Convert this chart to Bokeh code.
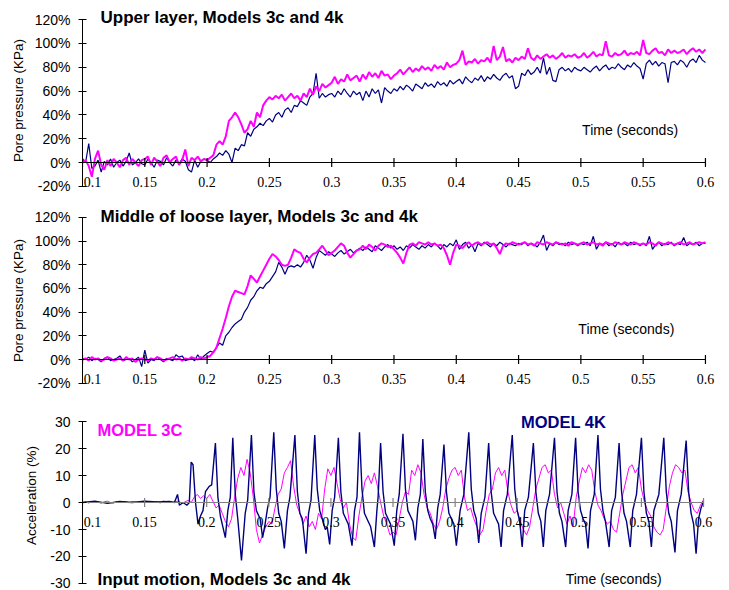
import numpy as np
from bokeh.plotting import figure
from bokeh.layouts import column
from bokeh.models import (Range1d, FixedTicker, CustomJSTickFormatter, Label,
                          LabelSet, ColumnDataSource)
from bokeh.embed import file_html
from bokeh.resources import INLINE

FONT = "Liberation Sans"
MAGENTA = "#FF00FF"
NAVY = "#000080"

# ---------------- data ----------------
x_tick_values = [0.1, 0.15, 0.2, 0.25, 0.3, 0.35, 0.4, 0.45, 0.5, 0.55, 0.6]
x_tick_labels = ["0.1", "0.15", "0.2", "0.25", "0.3", "0.35", "0.4", "0.45", "0.5", "0.55", "0.6"]
pore_ticks = [-20, 0, 20, 40, 60, 80, 100, 120]
acc_ticks = [-30, -20, -10, 0, 10, 20, 30]

# sampling times of the pore pressure records (s)
t_pore = np.round(np.linspace(0.1, 0.6, 201), 4)

# Upper layer, model 3c (%)
upper_3c = [
    0, 2, -3, -12, 3, 10, -2, -6, 2, -3, 3, 0, -4, 2, 4, -2, 3, 0, -3, 2,
    3, 5, -2, 4, 1, -3, 4, 6, 0, 3, 5, -2, 2, 11, -3, 4, 2, 5, 1, 3,
    2, 4, 6, 15, 18, 15, 22, 35, 38, 42, 38, 32, 25, 28, 35, 30, 42, 38, 48, 52,
    55, 53, 56, 54, 57, 52, 55, 58, 54, 56, 52, 58, 55, 62, 57, 64, 60, 66, 63, 65,
    67, 72, 66, 70, 68, 74, 69, 71, 73, 68, 74, 70, 76, 72, 75, 71, 77, 73, 74, 70,
    73, 75, 78, 74, 77, 80, 76, 79, 77, 81, 78, 80, 77, 82, 79, 81, 78, 84, 80, 82,
    83, 86, 94, 82, 85, 84, 87, 83, 86, 85, 88, 84, 98, 86, 89, 97, 85, 87, 84, 88,
    86, 89, 87, 96, 88, 86, 90, 87, 89, 91, 88, 90, 87, 89, 92, 88, 90, 89, 91, 88,
    89, 92, 88, 90, 93, 89, 91, 90, 102, 90, 89, 92, 90, 91, 94, 90, 92, 91, 93, 90,
    103, 92, 91, 94, 96, 92, 93, 90, 95, 92, 94, 92, 93, 95, 91, 94, 96, 93, 95, 92,
    95,
]
# Upper layer, model 4k (%)
upper_4k = [
    3, 0, 16, -5, -3, 2, -8, 1, -2, 3, -4, 0, 2, -3, 1, 8, -2, 0, 3, -1,
    -2, 3, 0, -4, 2, 1, -2, 4, 0, -3, 2, -1, 3, 1, -6, -8, 2, -4, 1, 3,
    2, 0, 3, 5, 8, 6, 10, 7, 0, 12, 10, 15, 14, 25, 22, 28, 30, 33, 31, 35,
    37, 34, 40, 42, 38, 44, 46, 42, 48, 47, 52, 50, 48, 55, 58, 75, 54, 58, 55, 57,
    58, 55, 60, 57, 62, 58, 55, 60, 57, 59, 52, 60, 55, 62, 58, 61, 50, 63, 60, 58,
    62, 60, 64, 61, 65, 63, 60, 66, 64, 62, 67, 64, 66, 63, 68, 65, 67, 64, 69, 66,
    68, 70, 66, 72, 69, 67, 71, 69, 73, 68, 72, 70, 74, 71, 69, 73, 75, 71, 73, 62,
    64, 75, 73, 78, 74, 76, 80, 75, 88, 74, 80, 69, 68, 78, 80, 77, 79, 76, 80, 78,
    77, 80, 78, 76, 79, 81, 77, 80, 82, 78, 80, 79, 83, 80, 78, 82, 80, 84, 81, 79,
    70, 83, 86, 82, 85, 81, 84, 83, 67, 84, 85, 82, 86, 84, 80, 85, 87, 84, 90, 86,
    84,
]
# Middle of loose layer, model 3c (%)
middle_3c = [
    0, 1, -1, 2, 0, 1, -1, 0, 2, 1, -1, 0, 1, -1, 2, 0, 1, -2, 0, 1,
    0, -1, 1, 0, 2, 1, -1, 0, 1, 2, 0, 1, -1, 1, 0, 2, 1, 0, 2, 1,
    2, 3, 6, 10, 18, 26, 35, 45, 53, 58, 57, 56, 55, 62, 71, 68, 65, 70, 75, 80,
    85, 89, 87, 84, 80, 79, 80, 86, 93, 91, 90, 85, 82, 86, 89, 90, 93, 96, 92, 88,
    90, 92, 95, 98, 96, 90, 86, 89, 92, 93, 96, 93, 97, 95, 92, 96, 98, 97, 95, 96,
    93, 90, 86, 81, 90, 97, 98, 96, 99, 98, 97, 99, 97, 98, 96, 97, 94, 88, 80, 90,
    97, 96, 94, 97, 99, 96, 98, 99, 97, 98, 99, 97, 98, 94, 89, 96, 98, 97, 99, 98,
    97, 98, 99, 97, 98, 96, 99, 98, 97, 99, 98, 97, 99, 98, 97, 98, 96, 99, 98, 97,
    98, 99, 97, 98, 99, 97, 98, 96, 99, 98, 97, 99, 98, 97, 99, 98, 97, 99, 98, 97,
    98, 97, 99, 98, 96, 99, 98, 97, 99, 98, 97, 98, 99, 97, 98, 99, 97, 98, 99, 98,
    99,
]
# Middle of loose layer, model 4k (%)
middle_4k = [
    1, 0, 2, -1, 1, 0, -2, 1, 2, -1, 0, 1, 3, -1, 0, 1, -2, 0, 2, -6,
    8, -3, 0, -1, 2, 0, -2, 1, 0, -1, 4, 2, 3, -1, 0, 1, -1, 4, 0, 3,
    5, 7, 6, 10, 14, 12, 20, 23, 27, 30, 32, 34, 40, 44, 50, 53, 58, 61, 60, 64,
    66, 70, 74, 82, 78, 72, 78, 79, 78, 80, 78, 82, 88, 84, 77, 86, 92, 90, 88, 91,
    89, 87, 90, 92, 89, 91, 93, 90, 92, 94, 92, 95, 93, 91, 96, 94, 92, 95, 97, 94,
    96, 93, 95, 92, 96, 94, 97, 95, 93, 96, 94, 97, 95, 98, 96, 93, 97, 95, 98, 96,
    101, 93, 97, 99, 94, 97, 91, 98, 96, 99, 97, 95, 98, 96, 99, 97, 95, 98, 97, 96,
    98, 97, 99, 96, 98, 97, 95, 99, 105, 92, 98, 96, 99, 97, 98, 96, 99, 97, 98, 96,
    98, 97, 99, 96, 104, 93, 98, 97, 99, 96, 98, 95, 99, 97, 98, 96, 99, 97, 98, 96,
    98, 96, 104, 93, 97, 99, 96, 98, 97, 99, 96, 98, 97, 103, 96, 98, 97, 99, 96, 98,
    98,
]

# Input motion, model 3C (acceleration, %), same sampling as pore pressure
acc_3c = [
    0, 0.3, -0.2, 0.4, 0, 0.2, -0.3, 0.3, 0.5, 0, -0.2, 0.4, 0.2, 0, 0.3, -0.1, 0.4, 0.2, 0, 0.3,
    0.5, 0.1, 0.3, 0, 0.4, -0.2, 0.6, 0.2, 0.3, 0, 0.4, 0.5, -0.3, 0.2, 0.8, 0, 2.0, 3.0, 1.5, 2.5,
    1.5, 3.0, 0.5, -2.0, -1.0, -4.0, -7.0, -9.0, -6.0, 2.0, 9.0, 13.0, 10.0, 16.0, 11.0, 2.0, -10.0, -15.0, -12.0, -9.0,
    -7.0, -8.0, -2.0, 3.0, 5.0, 11.0, 13.0, 15.5, 6.0, -1.0, -4.0, -8.0, -5.0, -9.0, -7.0, -10.0, -4.0, -6.0, 5.0, 12.5,
    10.0, 13.0, 7.0, 1.0, -2.0, 0.0, -8.0, -13.0, -14.0, -5.0, 2.0, 8.0, 10.0, 7.0, 11.0, 6.0, 0.0, -5.0, -8.0, -12.0,
    -11.0, -12.0, -6.0, 0.0, 4.0, 3.0, 12.0, 10.0, 14.0, 11.0, 3.0, -2.0, -4.0, -8.0, -10.0, -7.0, -2.0, 5.0, 9.0, 12.0,
    13.0, 10.0, 12.0, 2.0, -3.0, -2.0, -6.0, -9.0, -12.0, -10.0, -3.0, 3.0, 5.0, 11.0, 13.0, 10.0, 12.0, 4.0, -1.0, -4.0,
    -3.0, -7.0, -10.0, -12.0, -9.0, -2.0, 5.0, 9.0, 13.0, 14.0, 11.0, 12.0, 3.0, -2.0, 0.0, -4.0, -8.0, -5.0, -9.0, 2.0,
    8.0, 13.0, 11.0, 14.0, 12.0, 4.0, -1.0, -3.0, -6.0, -8.0, -7.0, -10.0, -11.0, -4.0, 3.0, 8.0, 13.0, 14.0, 11.0, 13.0,
    5.0, 0.0, -3.0, -5.0, -9.0, -11.0, -12.0, -10.0, -2.0, 6.0, 11.0, 14.0, 13.0, 11.0, 12.0, 4.0, 0.0, -3.0, -4.0, -1.0,
    1.0,
]

# Input motion, model 4K: times (s) and acceleration (%)
acc_4k_t = [
    0.100, 0.110, 0.120, 0.130, 0.140, 0.150, 0.160, 0.170, 0.174, 0.1765, 0.178, 0.181, 0.184, 0.186,
    0.1875, 0.189, 0.191, 0.193, 0.195, 0.197, 0.199, 0.202, 0.204,
    0.207, 0.209, 0.211, 0.213, 0.215, 0.217, 0.219,
    0.221, 0.223, 0.225, 0.228, 0.231, 0.233,
    0.236, 0.238, 0.240, 0.243, 0.245, 0.247, 0.249, 0.251,
    0.254, 0.256, 0.258, 0.260, 0.2625, 0.265, 0.267,
    0.271, 0.273, 0.275, 0.277, 0.280, 0.282, 0.284,
    0.287, 0.289, 0.291, 0.293, 0.2955, 0.297, 0.299, 0.301, 0.303,
    0.306, 0.308, 0.310, 0.312, 0.314, 0.317, 0.319, 0.321,
    0.323, 0.325, 0.327, 0.329, 0.332, 0.335, 0.337, 0.338,
    0.340, 0.342, 0.344, 0.346, 0.348, 0.351, 0.353, 0.355,
    0.358, 0.360, 0.362, 0.364, 0.366, 0.368, 0.370, 0.372,
    0.374, 0.376, 0.378, 0.380, 0.382, 0.384, 0.386, 0.388,
    0.391, 0.393, 0.395, 0.397, 0.399, 0.401, 0.404, 0.407,
    0.411, 0.413, 0.415, 0.417, 0.419, 0.421, 0.424,
    0.427, 0.429, 0.431, 0.433, 0.435, 0.437, 0.439, 0.442,
    0.446, 0.448, 0.450, 0.452, 0.454, 0.456, 0.459,
    0.463, 0.465, 0.467, 0.469, 0.471, 0.473, 0.476,
    0.480, 0.482, 0.484, 0.486, 0.489, 0.491, 0.494,
    0.497, 0.499, 0.501, 0.503, 0.505, 0.507, 0.509, 0.512,
    0.515, 0.517, 0.519, 0.521, 0.524, 0.526, 0.529,
    0.532, 0.534, 0.536, 0.538, 0.541, 0.543, 0.546,
    0.550, 0.552, 0.554, 0.556, 0.558, 0.560, 0.564,
    0.568, 0.570, 0.572, 0.574, 0.577, 0.579, 0.582,
    0.586, 0.588, 0.590, 0.592, 0.594, 0.596, 0.598, 0.600,
]
acc_4k_v = [
    0.0, 0.5, -0.3, 0.4, 0.0, 0.5, 0.2, 0.4, 0.0, 3.0, -1.0, 0.0, -1.0, 0.0,
    15.0, 14.0, 0.0, -8.0, -5.0, -3.0, 4.0, 6.0, 6.5,
    22.0, 2.0, -5.0, -9.0, -13.0, -3.0, 2.0,
    24.0, 3.0, -6.0, -21.5, -4.0, 1.0,
    25.0, 4.0, -3.0, -6.0, -13.0, -8.0, -2.0, 2.0,
    26.0, 5.0, -4.0, -7.0, -17.0, -3.0, 2.0,
    25.0, 4.0, -4.0, -6.0, -19.0, -4.0, 1.0,
    25.0, 5.0, -3.0, -6.0, -10.0, -9.0, -15.5, -3.0, 2.0,
    24.0, 4.0, -4.0, -6.0, -8.0, -16.0, -3.0, 2.0,
    26.0, 5.0, -4.0, -6.0, -9.0, -16.5, -3.0, 2.0,
    22.0, 4.0, -4.0, -6.0, -8.0, -16.0, -3.0, 3.0,
    25.5, 5.0, -3.0, -5.0, -7.0, -14.0, -2.0, 3.0,
    23.5, 4.0, -3.0, -6.0, -8.0, -13.5, -2.0, 3.0,
    21.5, 4.0, -4.0, -6.0, -8.0, -16.0, -3.0, 3.0,
    26.0, 5.0, -3.0, -6.0, -15.0, -4.0, 2.0,
    22.0, 4.0, -4.0, -6.0, -8.0, -16.5, -3.0, 3.0,
    25.0, 5.0, -3.0, -7.0, -16.5, -3.0, 2.0,
    22.0, 4.0, -4.0, -7.0, -16.5, -3.0, 3.0,
    24.0, 4.0, -4.0, -7.0, -16.5, -3.0, 3.0,
    24.0, 4.0, -3.0, -6.0, -8.0, -17.0, -3.0, 3.0,
    25.0, 5.0, -3.0, -7.0, -16.5, -3.0, 2.0,
    22.0, 4.0, -4.0, -7.0, -16.5, -3.0, 3.0,
    24.0, 4.0, -4.0, -7.0, -16.5, -3.0, 3.0,
    24.0, 4.0, -4.0, -7.0, -18.5, -3.0, 3.0,
    23.0, 4.0, -4.0, -8.0, -19.0, -6.0, -2.0, 0.5,
]

titles = ["Upper layer, Models 3c and 4k",
          "Middle of loose layer, Models 3c and 4k",
          "Input motion, Models 3c and 4k"]


# ---------------- helpers ----------------
def make_fig(height, left, xmax, yrange, ybounds, yticks, ylabel, percent, label_standoff):
    # the frame fills the figure height so that texts near the edges are not clipped;
    # the y axis itself is limited to its tick range with bounds
    p = figure(width=729, height=height, x_range=Range1d(0.1, xmax), y_range=Range1d(*yrange),
               output_backend="svg", toolbar_location=None, x_axis_location=None,
               min_border_top=0, min_border_bottom=0,
               min_border_left=left, min_border_right=0)
    p.outline_line_color = None
    p.grid.grid_line_color = None
    p.background_fill_color = "white"
    ax = p.yaxis[0]
    ax.bounds = ybounds
    ax.ticker = FixedTicker(ticks=yticks)
    if percent:
        ax.formatter = CustomJSTickFormatter(code="return tick.toFixed(0) + '%';")
    else:
        ax.formatter = CustomJSTickFormatter(code="return tick.toFixed(0);")
    ax.major_tick_in = 4
    ax.major_tick_out = 4
    ax.minor_tick_line_color = None
    ax.axis_line_color = "black"
    ax.major_tick_line_color = "black"
    ax.major_label_standoff = 8
    ax.major_label_text_font = FONT
    ax.major_label_text_font_size = "14px"
    ax.major_label_text_color = "black"
    ax.axis_label = ylabel
    ax.axis_label_text_font = FONT
    ax.axis_label_text_font_size = "13.5px"
    ax.axis_label_text_font_style = "normal"
    ax.axis_label_text_color = "black"
    ax.axis_label_standoff = label_standoff
    return p


def add_xaxis(p, color):
    p.line(x=[x_tick_values[0], x_tick_values[-1]], y=[0, 0], line_color=color, line_width=1.2)
    p.scatter(x=x_tick_values, y=[0] * len(x_tick_values), marker="dash", angle=np.pi / 2,
              size=9, line_color=color, line_width=1.2)
    dx = [10] + [0] * (len(x_tick_values) - 1)
    src = ColumnDataSource(dict(x=x_tick_values, y=[0] * len(x_tick_values),
                                text=x_tick_labels, dx=dx))
    p.add_layout(LabelSet(x="x", y="y", text="text", source=src, x_offset="dx", y_offset=-14,
                          text_align="center", text_baseline="top",
                          text_font=FONT, text_font_size="14px", text_color="black"))


def add_text(p, x, y, text, size, bold=False, color="black"):
    p.add_layout(Label(x=x, y=y, text=text, text_font=FONT, text_font_size=size,
                       text_font_style="bold" if bold else "normal",
                       text_color=color, text_baseline="middle", text_align="left"))


# ---------------- panel 1 ----------------
p1 = make_fig(200, 82, 0.6193, (-31.9, 136.1), (-20, 120), pore_ticks, "Pore pressure (KPa)", True, 6)
p1.line(t_pore, upper_4k, line_color=NAVY, line_width=1.2)
p1.line(t_pore, upper_3c, line_color=MAGENTA, line_width=2)
add_xaxis(p1, "black")
add_text(p1, 0.1145, 122, titles[0], "17px", bold=True)
add_text(p1, 0.501, 27, "Time (seconds)", "14px")

# ---------------- panel 2 ----------------
p2 = make_fig(200, 82, 0.6193, (-34.6, 134.2), (-20, 120), pore_ticks, "Pore pressure (KPa)", True, 6)
p2.line(t_pore, middle_4k, line_color=NAVY, line_width=1.2)
p2.line(t_pore, middle_3c, line_color=MAGENTA, line_width=2)
add_xaxis(p2, "black")
add_text(p2, 0.1145, 120.5, titles[1], "17px", bold=True)
add_text(p2, 0.498, 26, "Time (seconds)", "14px")

# ---------------- panel 3 ----------------
p3 = make_fig(190, 80, 0.6209, (-32.6, 37.8), (-30, 30), acc_ticks, "Acceleration (%)", False, 8)
p3.line(t_pore, acc_3c, line_color=MAGENTA, line_width=1)
p3.line(acc_4k_t, acc_4k_v, line_color=NAVY, line_width=1.4)
add_xaxis(p3, "#808080")
add_text(p3, 0.112, 27, "MODEL 3C", "16.5px", bold=True, color=MAGENTA)
add_text(p3, 0.453, 30, "MODEL 4K", "16.5px", bold=True, color=NAVY)
add_text(p3, 0.112, -28.5, titles[2], "17px", bold=True)
add_text(p3, 0.489, -28.5, "Time (seconds)", "14px")

layout = column(p1, p2, p3, spacing=0)
open("out.html", "w").write(file_html(layout, INLINE))
